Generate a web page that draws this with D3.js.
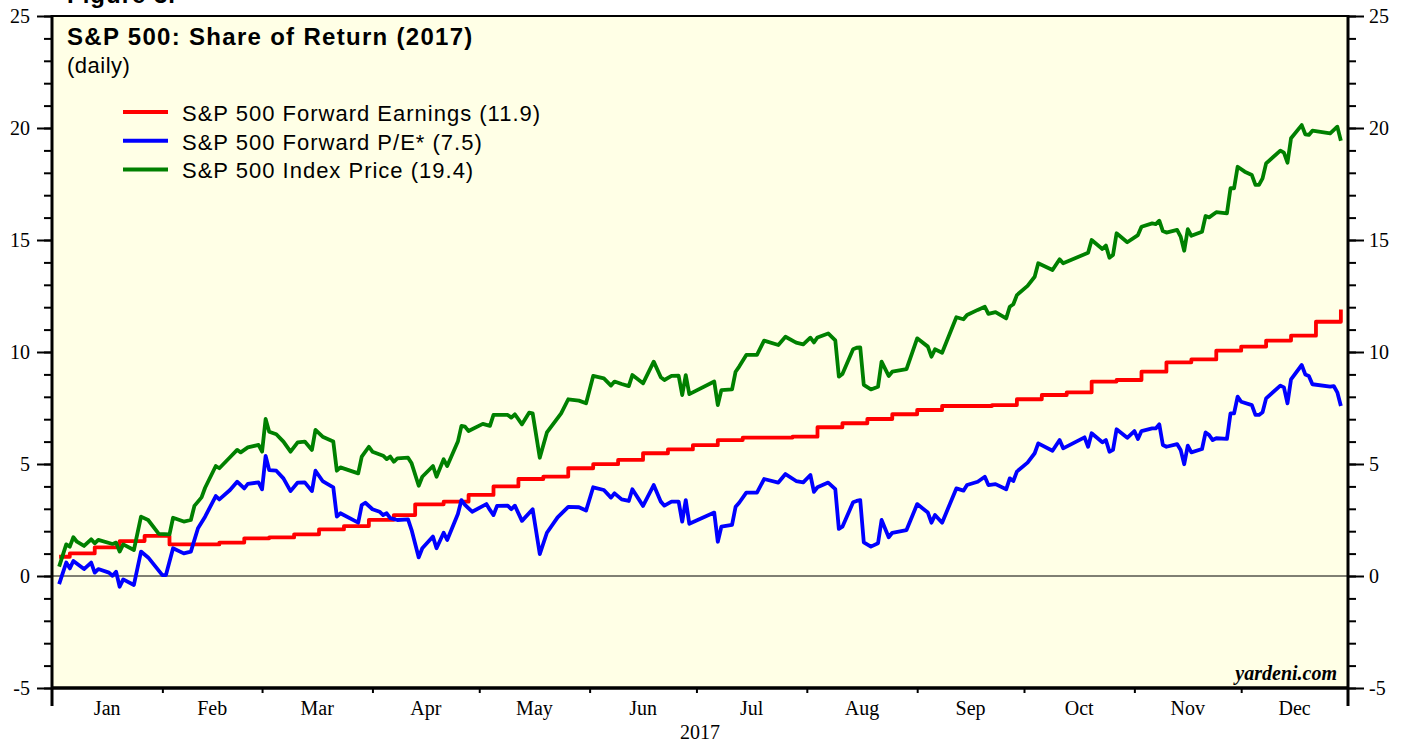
<!DOCTYPE html>
<html>
<head>
<meta charset="utf-8">
<script src="https://cdn.jsdelivr.net/npm/d3@7"></script>
<style>
  body { margin: 0; background: #fff; }
</style>
</head>
<body>
<script>
// values, 2017, share of return in percentage points

// S&P 500 Forward Earnings: weekly steps
var redDates = ["01-03","01-06","01-13","01-20","01-27","02-03","02-17","02-24","03-03","03-10",
  "03-17","03-24","03-31","04-07","04-13","04-21","04-28","05-05","05-12","05-19",
  "05-26","06-02","06-09","06-16","06-23","06-30","07-07","07-14","07-28","08-04",
  "08-11","08-18","08-25","09-01","09-08","09-22","09-29","10-06","10-13","10-20",
  "10-27","11-03","11-10","11-17","11-24","12-01","12-08","12-15","12-22","12-29"];
var redValues = [0.86,1.01,1.28,1.56,1.79,1.41,1.49,1.68,1.72,1.86,
  2.08,2.23,2.51,2.72,3.20,3.32,3.62,4.00,4.33,4.44,
  4.81,4.99,5.18,5.48,5.65,5.84,6.07,6.18,6.22,6.64,
  6.82,7.01,7.22,7.41,7.59,7.63,7.89,8.08,8.20,8.68,
  8.75,9.12,9.54,9.67,10.06,10.24,10.51,10.73,11.35,11.90];

// S&P 500 Forward P/E
var blueDates = ["01-03","01-05","01-06","01-07","01-10","01-12","01-13","01-14","01-17","01-18",
  "01-19","01-20","01-21","01-24","01-26","01-28","02-01","02-02","02-04","02-07",
  "02-09","02-11","02-13","02-16","02-17","02-20","02-22","02-24","02-25","02-28",
  "03-01","03-02","03-03","03-05","03-07","03-09","03-11","03-13","03-15","03-16",
  "03-18","03-21","03-22","03-23","03-28","03-29","03-30","04-01","04-03","04-04",
  "04-05","04-06","04-08","04-11","04-12","04-14","04-15","04-18","04-19","04-21",
  "04-22","04-25","04-26","04-27","04-29","05-03","05-04","05-05","05-06","05-09",
  "05-10","05-11","05-13","05-16","05-18","05-20","05-23","05-26","05-29","05-31",
  "06-02","06-05","06-07","06-08","06-10","06-12","06-13","06-16","06-19","06-21",
  "06-22","06-24","06-26","06-27","06-28","06-29","07-06","07-07","07-08","07-11",
  "07-12","07-13","07-15","07-18","07-20","07-24","07-26","07-29","07-31","08-02",
  "08-03","08-04","08-07","08-09","08-10","08-11","08-14","08-15","08-16","08-17",
  "08-19","08-21","08-22","08-24","08-25","08-29","09-01","09-04","09-05","09-06",
  "09-08","09-12","09-14","09-15","09-18","09-20","09-21","09-23","09-26","09-27",
  "09-28","09-29","10-02","10-04","10-05","10-09","10-11","10-12","10-18","10-19",
  "10-20","10-23","10-24","10-25","10-26","10-27","10-30","11-01","11-02","11-03",
  "11-06","11-07","11-08","11-09","11-10","11-13","11-14","11-15","11-16","11-17",
  "11-20","11-21","11-22","11-23","11-24","11-27","11-28","11-29","11-30","12-01",
  "12-04","12-05","12-06","12-07","12-08","12-12","12-13","12-14","12-15","12-18",
  "12-19","12-20","12-21","12-26","12-27","12-28","12-29"];
var blueValues = [-0.36,0.60,0.34,0.67,0.31,0.60,0.15,0.31,0.15,0.01,
  0.19,-0.48,-0.15,-0.40,1.09,0.83,0.04,0.04,1.24,1.01,
  1.09,2.13,2.65,3.57,3.42,3.84,4.21,3.91,4.11,4.18,
  3.87,5.36,4.73,4.70,4.36,3.79,4.17,4.18,3.79,4.70,
  4.24,3.96,2.65,2.80,2.38,3.17,3.27,2.98,2.87,2.72,
  2.80,2.58,2.50,2.53,2.05,0.83,1.24,1.76,1.24,1.93,
  1.61,2.77,3.39,3.17,2.87,3.21,2.95,2.72,3.13,3.14,
  2.98,3.14,2.46,2.98,0.98,1.93,2.62,3.09,3.07,2.92,
  3.96,3.84,3.50,3.69,3.42,3.35,3.87,3.13,4.06,3.32,
  3.14,3.32,3.32,2.43,3.39,2.33,2.83,1.53,2.20,2.28,
  3.09,3.27,3.72,3.72,4.33,4.17,4.55,4.24,4.18,4.51,
  3.76,3.96,4.17,3.88,2.10,2.20,3.29,3.35,3.39,1.50,
  1.31,1.46,2.50,1.73,1.93,2.05,3.21,2.83,2.38,2.72,
  2.38,3.91,3.81,4.06,4.21,4.43,4.06,4.10,3.87,4.36,
  4.24,4.66,5.06,5.48,5.92,5.59,6.07,5.70,6.19,5.77,
  6.37,5.97,6.07,5.55,5.63,6.55,6.17,6.47,6.12,6.47,
  6.59,6.59,6.77,5.85,5.77,5.89,5.63,4.99,5.82,5.52,
  5.67,6.41,6.29,6.07,6.15,6.12,7.26,7.26,8.01,7.78,
  7.63,7.19,7.19,7.31,7.93,8.50,8.42,7.71,8.78,9.42,
  9.00,8.93,8.56,8.45,8.48,8.20,7.59];

// S&P 500 Index Price
var greenDates = ["01-03","01-05","01-06","01-07","01-08","01-10","01-12","01-13","01-14","01-18",
  "01-19","01-20","01-21","01-24","01-26","01-28","01-31","02-03","02-04","02-07",
  "02-09","02-10","02-12","02-13","02-16","02-17","02-20","02-22","02-23","02-25",
  "02-28","03-01","03-02","03-03","03-05","03-07","03-09","03-11","03-13","03-15",
  "03-16","03-18","03-21","03-22","03-23","03-28","03-29","03-31","04-01","04-04",
  "04-05","04-06","04-07","04-08","04-11","04-12","04-14","04-15","04-18","04-19",
  "04-21","04-22","04-25","04-26","04-27","04-28","05-02","05-04","05-05","05-09",
  "05-10","05-11","05-13","05-15","05-16","05-18","05-20","05-24","05-26","05-29",
  "05-31","06-02","06-05","06-07","06-08","06-10","06-12","06-13","06-16","06-19",
  "06-21","06-22","06-24","06-26","06-27","06-28","06-29","07-06","07-07","07-08",
  "07-11","07-12","07-13","07-15","07-18","07-20","07-24","07-26","07-29","07-31",
  "08-02","08-03","08-04","08-07","08-09","08-10","08-11","08-14","08-15","08-16",
  "08-17","08-19","08-21","08-22","08-24","08-25","08-29","09-01","09-04","09-05",
  "09-06","09-08","09-12","09-14","09-15","09-18","09-20","09-21","09-23","09-26",
  "09-27","09-28","09-29","10-02","10-04","10-05","10-09","10-11","10-12","10-19",
  "10-20","10-23","10-24","10-25","10-26","10-27","10-30","11-02","11-03","11-06",
  "11-07","11-08","11-09","11-10","11-13","11-14","11-15","11-16","11-17","11-20",
  "11-21","11-22","11-24","11-27","11-28","11-29","11-30","12-02","12-04","12-05",
  "12-06","12-07","12-08","12-12","12-13","12-14","12-15","12-18","12-19","12-20",
  "12-21","12-26","12-28","12-29"];
var greenValues = [0.42,1.41,1.31,1.73,1.53,1.34,1.64,1.46,1.61,1.43,
  1.49,1.09,1.41,1.16,2.65,2.50,1.88,1.86,2.60,2.43,
  2.50,3.13,3.51,3.94,4.91,4.81,5.30,5.63,5.52,5.74,
  5.85,5.55,7.01,6.44,6.33,6.00,5.55,5.97,6.00,5.63,
  6.52,6.22,6.00,4.70,4.85,4.58,5.33,5.77,5.55,5.37,
  5.22,5.33,5.10,5.25,5.28,5.03,4.03,4.43,4.91,4.43,
  5.21,4.91,6.00,6.70,6.67,6.47,6.79,6.70,7.19,7.19,
  7.07,7.22,6.77,7.29,7.26,5.28,6.41,7.26,7.89,7.83,
  7.71,8.93,8.82,8.50,8.68,8.57,8.48,8.97,8.60,9.57,
  8.87,8.75,8.93,8.94,8.08,8.97,8.12,8.68,7.63,8.30,
  8.33,9.12,9.35,9.87,9.87,10.51,10.31,10.68,10.42,10.34,
  10.64,10.43,10.65,10.83,10.52,8.90,9.02,10.12,10.19,10.21,
  8.53,8.33,8.45,9.57,8.93,9.12,9.24,10.61,10.24,9.79,
  10.12,9.97,11.55,11.46,11.65,11.88,12.02,11.70,11.78,11.50,
  12.02,12.13,12.54,12.95,13.36,13.96,13.66,14.14,13.96,14.43,
  15.00,14.60,14.75,14.21,14.33,15.30,14.90,15.22,15.59,15.74,
  15.71,15.86,15.40,15.33,15.45,15.15,14.52,15.48,15.19,15.37,
  16.07,16.01,16.24,16.19,17.31,17.31,18.27,18.05,17.90,17.46,
  17.46,17.75,18.42,18.99,18.90,18.45,19.54,20.13,19.72,19.69,
  19.88,19.76,20.06,19.43];

var legendLabels = ["S&P 500 Forward Earnings (11.9)", "S&P 500 Forward P/E* (7.5)", "S&P 500 Index Price (19.4)"];
var legendColors = ["#ff0000", "#0000ff", "#008000"];
var yLabelTicks = [-5, 0, 5, 10, 15, 20, 25];

var width = 1407, height = 742;
var plotLeft = 52, plotRight = 1348, plotTop = 16, plotBottom = 688;
var sans = "'Liberation Sans', Arial, sans-serif";
var serif = "'Liberation Serif', 'Times New Roman', serif";

var parseDay = d3.timeParse("%Y-%m-%d");
function toDate(s) { return parseDay("2017-" + s); }

function pairs(dates, values) {
  return dates.map(function(d, i) { return { date: toDate(d), value: values[i] }; });
}

var x = d3.scaleTime()
  .domain([new Date(2017, 0, 1), new Date(2017, 11, 31)])
  .range([plotLeft, plotRight]);
var y = d3.scaleLinear()
  .domain([-5, 25])
  .range([plotBottom, plotTop]);

var svg = d3.select("body")
  .append("svg")
  .attr("width", width)
  .attr("height", height)
  .style("display", "block");

// heading above the chart, only its bottom edge shows in the picture
svg.append("text")
  .attr("x", 67).attr("y", 3)
  .style("font-family", sans).style("font-weight", "bold").style("font-size", "24px")
  .style("letter-spacing", "1px")
  .text("Figure 3.");

svg.append("rect")
  .attr("x", plotLeft).attr("y", plotTop)
  .attr("width", plotRight - plotLeft).attr("height", plotBottom - plotTop)
  .attr("fill", "#ffffe6");

// zero line
svg.append("line")
  .attr("x1", plotLeft).attr("x2", plotRight)
  .attr("y1", y(0)).attr("y2", y(0))
  .attr("stroke", "#000").attr("stroke-width", 1);

/* the three series */
var lineFn = d3.line()
  .x(function(d) { return x(d.date); })
  .y(function(d) { return y(d.value); });

var series = [
  { data: pairs(redDates, redValues), color: legendColors[0], curve: d3.curveStepAfter },
  { data: pairs(blueDates, blueValues), color: legendColors[1], curve: d3.curveLinear },
  { data: pairs(greenDates, greenValues), color: legendColors[2], curve: d3.curveLinear }
];

series.forEach(function(s) {
  svg.append("path")
    .datum(s.data)
    .attr("fill", "none")
    .attr("stroke", s.color)
    .attr("stroke-width", 3.8)
    .attr("stroke-linejoin", "round")
    .attr("d", lineFn.curve(s.curve));
});

/* y axes, left and right: long ticks every 5, short every 1 */
function styleAxis(g) {
  g.select(".domain").remove();
  g.selectAll("line").attr("stroke", "#000").attr("stroke-width", 2);
  g.selectAll("text")
    .style("font-family", serif).style("font-size", "20px").attr("fill", "#000");
}

var minorTicks = d3.range(-5, 26);
var tickFmt = function(d) { return String(d); };

svg.append("g").attr("transform", "translate(" + plotLeft + ",0)")
  .call(d3.axisLeft(y).tickValues(minorTicks).tickSize(8).tickFormat(""))
  .call(styleAxis);
svg.append("g").attr("transform", "translate(" + plotLeft + ",0)")
  .call(d3.axisLeft(y).tickValues(yLabelTicks).tickSize(15).tickPadding(7).tickFormat(tickFmt))
  .call(styleAxis);
svg.append("g").attr("transform", "translate(" + plotRight + ",0)")
  .call(d3.axisRight(y).tickValues(minorTicks).tickSize(8).tickFormat(""))
  .call(styleAxis);
svg.append("g").attr("transform", "translate(" + plotRight + ",0)")
  .call(d3.axisRight(y).tickValues(yLabelTicks).tickSize(16).tickPadding(5).tickFormat(tickFmt))
  .call(styleAxis);

/* x axis: small ticks at month starts, names in the middle of each month */
var monthStarts = d3.timeMonth.range(new Date(2017, 1, 1), new Date(2017, 11, 2));
svg.append("g").attr("transform", "translate(0," + plotBottom + ")")
  .call(d3.axisBottom(x).tickValues(monthStarts).tickSize(5).tickFormat(""))
  .call(styleAxis);

var months = d3.timeMonth.range(new Date(2017, 0, 1), new Date(2018, 0, 1));
svg.selectAll(".month")
  .data(months)
  .enter()
  .append("text")
  .attr("class", "month")
  .attr("x", function(d) { return (x(d) + x(Math.min(d3.timeMonth.offset(d, 1), x.domain()[1]))) / 2; })
  .attr("y", 715)
  .attr("text-anchor", "middle")
  .style("font-family", serif).style("font-size", "20px")
  .text(d3.timeFormat("%b"));

svg.append("text")
  .attr("x", (plotLeft + plotRight) / 2).attr("y", 739)
  .attr("text-anchor", "middle")
  .style("font-family", serif).style("font-size", "20px")
  .text("2017");

// frame
svg.append("line").attr("x1", plotLeft - 1).attr("x2", plotRight + 1)
  .attr("y1", plotTop).attr("y2", plotTop)
  .attr("stroke", "#000").attr("stroke-width", 2);
svg.append("line").attr("x1", plotLeft).attr("x2", plotRight)
  .attr("y1", plotBottom).attr("y2", plotBottom)
  .attr("stroke", "#000").attr("stroke-width", 3.5);
[plotLeft, plotRight].forEach(function(px) {
  svg.append("line").attr("x1", px).attr("x2", px)
    .attr("y1", plotTop - 1).attr("y2", 706)
    .attr("stroke", "#000").attr("stroke-width", 3);
});

/* titles and legend */
svg.append("text")
  .attr("x", 67).attr("y", 45)
  .style("font-family", sans).style("font-weight", "bold").style("font-size", "24px")
  .style("letter-spacing", "1.3px")
  .text("S&P 500: Share of Return (2017)");
svg.append("text")
  .attr("x", 67).attr("y", 73)
  .style("font-family", sans).style("font-size", "22px")
  .style("letter-spacing", "0.5px")
  .text("(daily)");

var legend = svg.selectAll(".legend")
  .data(legendLabels)
  .enter()
  .append("g")
  .attr("class", "legend")
  .attr("transform", function(d, i) { return "translate(0," + (112 + i * 28.7) + ")"; });

legend.append("line")
  .attr("x1", 123).attr("x2", 168)
  .attr("stroke", function(d, i) { return legendColors[i]; })
  .attr("stroke-width", 4);

legend.append("text")
  .attr("x", 182).attr("y", 9)
  .style("font-family", sans).style("font-size", "22px")
  .style("letter-spacing", "1px")
  .text(function(d) { return d; });

svg.append("text")
  .attr("x", 1337).attr("y", 680)
  .attr("text-anchor", "end")
  .style("font-family", serif).style("font-weight", "bold").style("font-style", "italic")
  .style("font-size", "20px")
  .text("yardeni.com");
</script>
</body>
</html>
